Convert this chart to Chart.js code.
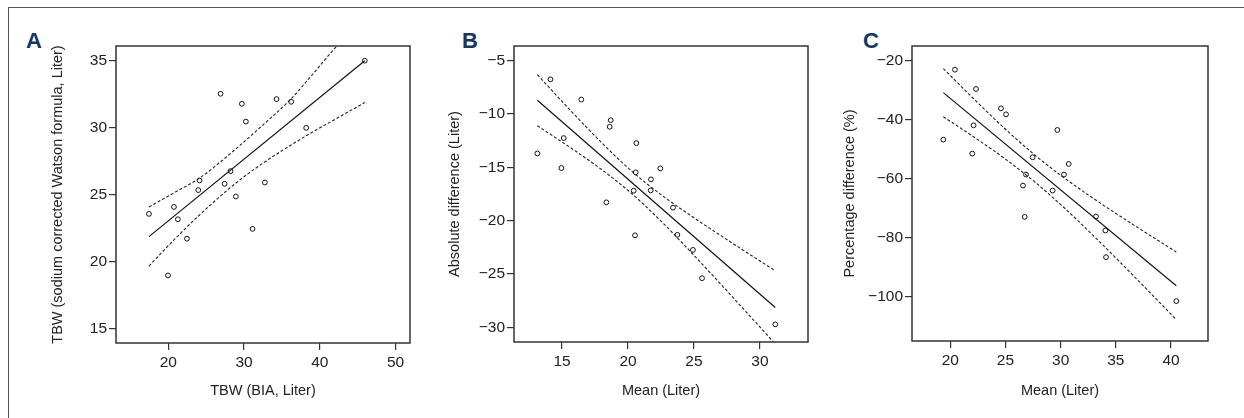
<!DOCTYPE html>
<html>
<head>
<meta charset="utf-8">
<script src="https://cdn.jsdelivr.net/npm/chart.js@4.4.0/dist/chart.umd.min.js"></script>
<style>
  body { margin: 0; background: #fff; }
  #fig { position: relative; width: 1244px; height: 418px; overflow: hidden; }
  #fig canvas { position: absolute; top: 0; }
  .edgeTop { position: absolute; left: 8px; top: 7px; right: 0; border-top: 1px solid #555; }
  .edgeLeft { position: absolute; left: 8px; top: 7px; bottom: 0; border-left: 1px solid #555; }
  .letter { position: absolute; top: 30px; font: bold 22px/22px 'Liberation Sans', Arial, sans-serif; color: #17375e; }
</style>
</head>
<body>
<div id="fig">
  <div class="edgeTop"></div>
  <div class="edgeLeft"></div>
  <div class="letter" style="left:26px">A</div>
  <div class="letter" style="left:462px">B</div>
  <div class="letter" style="left:863px">C</div>
  <canvas id="chartA"></canvas>
  <canvas id="chartB"></canvas>
  <canvas id="chartC"></canvas>
</div>
<script>
// PANEL A - TBW BIA vs sodium corrected Watson formula
var aX = [17.45, 19.96, 20.75, 21.27, 22.46, 23.96, 24.13, 26.9, 27.43, 28.22, 28.92, 29.71, 30.24, 31.12, 32.75, 34.29, 36.22, 38.2, 45.93];
var aY = [23.55, 18.95, 24.07, 23.15, 21.7, 25.33, 26.05, 32.53, 25.8, 26.75, 24.85, 31.78, 30.45, 22.43, 25.9, 32.13, 31.93, 29.98, 35.0];
var aFitX = [17.45, 45.93];
var aFitY = [21.85, 35.0];
var aBandX = [17.45, 21, 24.18, 28.8, 32, 36.2, 39, 42.1, 45.93];
var aUpper = [24.07, 25.2, 26.25, 28.35, 29.95, 32.15, 33.95, 36.0, 38.1];
var aLower = [19.65, 21.75, 23.5, 25.8, 27.15, 28.7, 29.65, 30.65, 31.87];
var aXTicks = [20, 30, 40, 50];
var aYTicks = [15, 20, 25, 30, 35];

// PANEL B - absolute difference vs mean
var bX = [13.13, 14.12, 14.95, 15.13, 16.46, 18.36, 18.61, 18.69, 20.43, 20.53, 20.58, 20.63, 21.72, 21.74, 22.45, 23.41, 23.74, 24.92, 25.61, 31.16];
var bY = [-13.7, -6.75, -15.07, -12.26, -8.65, -18.28, -11.2, -10.58, -17.19, -21.37, -15.47, -12.73, -17.16, -16.13, -15.1, -18.78, -21.33, -22.74, -25.39, -29.72];
var bFitX = [13.13, 31.16];
var bFitY = [-8.71, -28.13];
var bBandX = [13.13, 16, 18, 20.3, 22.5, 25, 28, 31.1];
var bUpper = [-6.32, -10.14, -12.69, -15.38, -17.56, -19.73, -22.18, -24.65];
var bLower = [-11.1, -13.46, -15.21, -17.48, -20.04, -23.25, -27.26, -31.47];
var bXTicks = [15, 20, 25, 30];
var bYTicks = [-30, -25, -20, -15, -10, -5];

// PANEL C - percentage difference vs mean
var cX = [19.37, 20.42, 21.99, 22.11, 22.33, 24.59, 25.05, 26.59, 26.74, 26.86, 27.46, 29.27, 29.7, 30.3, 30.73, 33.2, 34.05, 34.11, 40.48];
var cY = [-46.67, -22.94, -51.41, -41.81, -29.49, -36.05, -38.08, -62.26, -72.88, -58.53, -52.66, -63.95, -43.39, -58.53, -54.92, -72.77, -77.51, -86.55, -101.47];
var cFitX = [19.37, 40.48];
var cFitY = [-30.73, -96.27];
var cBandX = [19.37, 22, 25, 27.65, 30, 33, 36.5, 40.48];
var cUpper = [-22.54, -32.38, -43.14, -51.86, -58.77, -66.71, -75.34, -84.8];
var cLower = [-38.92, -45.42, -53.28, -61.02, -68.71, -79.39, -92.5, -107.74];
var cXTicks = [20, 25, 30, 35, 40];
var cYTicks = [-100, -80, -60, -40, -20];

var FONT = "'Liberation Sans', Arial, sans-serif";
var INK = '#222';
var TICK_SIZE = 15.5;
var TITLE_SIZE = 14.5;

function pairs(xs, ys) {
    return xs.map(function (x, i) { return { x: x, y: ys[i] }; });
}

function minusSign(v) {
    return String(v).replace('-', '\u2212');
}

// box round the plot area
var frameBox = {
    id: 'frameBox',
    afterDraw: function (chart) {
        var a = chart.chartArea, ctx = chart.ctx;
        ctx.save();
        ctx.strokeStyle = '#333';
        ctx.lineWidth = 1.5;
        ctx.strokeRect(a.left, a.top, a.right - a.left, a.bottom - a.top);
        ctx.restore();
    }
};

function makePanel(id, p) {
    var canvasLeft = Math.round(p.titleX - 18);
    var canvas = document.getElementById(id);
    canvas.width = p.right + 10 - canvasLeft;
    canvas.height = 418;
    canvas.style.left = canvasLeft + 'px';

    var dashed = {
        showLine: true, borderColor: INK, borderWidth: 1.1, borderDash: [3, 2],
        pointRadius: 0, cubicInterpolationMode: 'monotone'
    };

    return new Chart(canvas.getContext('2d'), {
        type: 'scatter',
        data: {
            datasets: [
                {
                    data: pairs(p.xs, p.ys), showLine: false,
                    pointRadius: 2.4, pointBorderWidth: 1,
                    pointBorderColor: '#111', pointBackgroundColor: 'rgba(0,0,0,0)'
                },
                {
                    data: pairs(p.fitX, p.fitY), showLine: true,
                    borderColor: '#111', borderWidth: 1.2, pointRadius: 0
                },
                Object.assign({ data: pairs(p.bandX, p.upper) }, dashed),
                Object.assign({ data: pairs(p.bandX, p.lower) }, dashed)
            ]
        },
        options: {
            responsive: false,
            animation: false,
            devicePixelRatio: 1,
            layout: { padding: { top: p.top, right: 10, bottom: 0, left: 0 } },
            plugins: { legend: { display: false }, tooltip: { enabled: false } },
            scales: {
                x: {
                    type: 'linear', position: 'bottom', min: p.xMin, max: p.xMax,
                    afterBuildTicks: function (s) { s.ticks = p.xTicks.map(function (v) { return { value: v }; }); },
                    afterFit: function (s) { s.height = 418 - p.bottom; },
                    grid: { drawOnChartArea: false, tickLength: 7, color: '#333', lineWidth: 1.2 },
                    border: { display: false },
                    ticks: { padding: 3, color: INK, font: { family: FONT, size: TICK_SIZE }, callback: minusSign },
                    title: { display: true, text: p.xTitle, color: INK, font: { family: FONT, size: TITLE_SIZE }, padding: { top: 0, bottom: 18 } }
                },
                y: {
                    type: 'linear', position: 'left', min: p.yMin, max: p.yMax,
                    afterBuildTicks: function (s) { s.ticks = p.yTicks.map(function (v) { return { value: v }; }); },
                    afterFit: function (s) { s.width = p.left - canvasLeft; },
                    grid: { drawOnChartArea: false, tickLength: 7, color: '#333', lineWidth: 1.2 },
                    border: { display: false },
                    ticks: { padding: 2, color: INK, font: { family: FONT, size: TICK_SIZE }, callback: minusSign },
                    title: { display: true, text: p.yTitle, color: INK, font: { family: FONT, size: TITLE_SIZE }, padding: { top: 9, bottom: 0 } }
                }
            }
        },
        plugins: [frameBox]
    });
}

makePanel('chartA', {
    left: 116, right: 410, top: 46, bottom: 343, titleX: 58,
    xMin: 13.1, xMax: 51.9, yMin: 13.9, yMax: 36.1,
    xs: aX, ys: aY, fitX: aFitX, fitY: aFitY, bandX: aBandX, upper: aUpper, lower: aLower,
    xTicks: aXTicks, yTicks: aYTicks,
    xTitle: 'TBW (BIA, Liter)', yTitle: 'TBW (sodium corrected Watson formula, Liter)'
});

makePanel('chartB', {
    left: 514, right: 808, top: 46, bottom: 342, titleX: 455,
    xMin: 11.36, xMax: 33.64, yMin: -31.37, yMax: -3.63,
    xs: bX, ys: bY, fitX: bFitX, fitY: bFitY, bandX: bBandX, upper: bUpper, lower: bLower,
    xTicks: bXTicks, yTicks: bYTicks,
    xTitle: 'Mean (Liter)', yTitle: 'Absolute difference (Liter)'
});

makePanel('chartC', {
    left: 912, right: 1208, top: 46, bottom: 341, titleX: 850,
    xMin: 16.53, xMax: 43.35, yMin: -115, yMax: -14.9,
    xs: cX, ys: cY, fitX: cFitX, fitY: cFitY, bandX: cBandX, upper: cUpper, lower: cLower,
    xTicks: cXTicks, yTicks: cYTicks,
    xTitle: 'Mean (Liter)', yTitle: 'Percentage difference (%)'
});
</script>
</body>
</html>
